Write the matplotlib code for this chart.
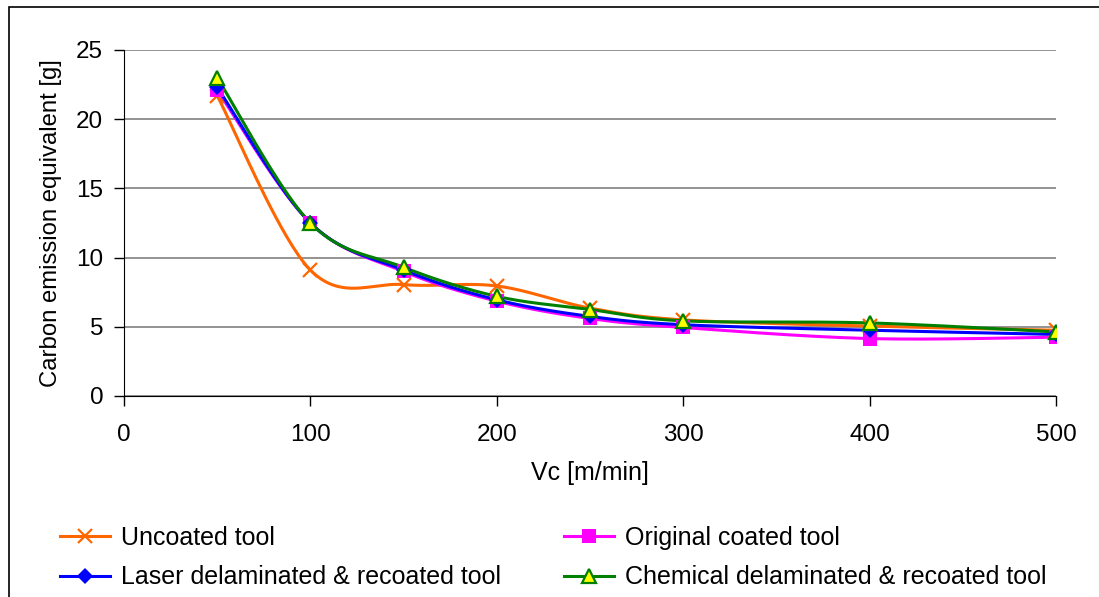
import numpy as np
import matplotlib
matplotlib.use("Agg")
import matplotlib.pyplot as plt
from matplotlib.patches import Rectangle

plt.rcParams['font.family'] = ['Liberation Sans', 'DejaVu Sans']

vc = [50, 100, 150, 200, 250, 300, 400, 500]
uncoated = [21.7, 9.1, 8.05, 7.95, 6.35, 5.5, 5.05, 4.75]
original = [22.1, 12.5, 9.0, 6.85, 5.6, 4.95, 4.15, 4.25]
laser = [22.3, 12.5, 9.1, 6.95, 5.75, 5.15, 4.75, 4.45]
chemical = [23.0, 12.5, 9.3, 7.2, 6.25, 5.43, 5.28, 4.63]

series_labels = ["Uncoated tool", "Original coated tool",
                 "Laser delaminated & recoated tool",
                 "Chemical delaminated & recoated tool"]
x_ticks = [0, 100, 200, 300, 400, 500]
y_ticks = [0, 5, 10, 15, 20, 25]


def smooth(xs, ys, n=40):
    """Excel-style smoothed line: Catmull-Rom Bezier segments."""
    p = np.column_stack([xs, ys]).astype(float)
    pts = np.vstack([p[0], p, p[-1]])
    out = []
    t = np.linspace(0, 1, n)[:, None]
    for i in range(1, len(pts) - 2):
        p0, p1, p2, p3 = pts[i - 1], pts[i], pts[i + 1], pts[i + 2]
        c1 = p1 + (p2 - p0) / 6.0
        c2 = p2 - (p3 - p1) / 6.0
        seg = ((1 - t) ** 3) * p1 + 3 * ((1 - t) ** 2) * t * c1 + \
            3 * (1 - t) * t ** 2 * c2 + t ** 3 * p2
        out.append(seg if i == 1 else seg[1:])
    s = np.vstack(out)
    return s[:, 0], s[:, 1]


fig = plt.figure(figsize=(10.99, 5.97), dpi=100)
fig.patches.append(Rectangle((9 / 1099, -0.05), 1.2, 1 - 7 / 597 + 0.05,
                             transform=fig.transFigure, fill=False,
                             edgecolor='black', linewidth=1.2))
ax = fig.add_axes([124 / 1099, 1 - 396 / 597, (1056 - 124) / 1099, (396 - 50) / 597])

styles = [
    dict(color='#FF6600', marker='x', ms=10, mew=1.6, mfc='#FF6600', mec='#FF6600'),
    dict(color='#FF00FF', marker='s', ms=10.5, mew=0, mfc='#FF00FF', mec='#FF00FF'),
    dict(color='#0000FF', marker='D', ms=8.5, mew=0, mfc='#0000FF', mec='#0000FF'),
    dict(color='#008000', marker='^', ms=10.5, mew=1.6, mfc='#FFFF00', mec='#008000'),
]
handles = []
for ys, lab, st in zip([uncoated, original, laser, chemical], series_labels, styles):
    sx, sy = smooth(vc, ys)
    ax.plot(sx, sy, color=st['color'], lw=2.2, solid_capstyle='round', zorder=3)
    ax.plot(vc, ys, linestyle='none', marker=st['marker'], ms=st['ms'], mew=st['mew'],
            mfc=st['mfc'], mec=st['mec'], zorder=4)
    h, = ax.plot([], [], color=st['color'], lw=2.2, marker=st['marker'], ms=st['ms'],
                 mew=st['mew'], mfc=st['mfc'], mec=st['mec'], label=lab)
    handles.append(h)

ax.set_xlim(0, 500)
ax.set_ylim(0, 25)
ax.set_xticks(x_ticks)
ax.set_yticks(y_ticks)
ax.tick_params(axis='both', labelsize=17.5, length=7, width=1, direction='out', color='black')
ax.tick_params(axis='x', pad=13)
ax.tick_params(axis='y', pad=8)
for sp in ['top', 'right']:
    ax.spines[sp].set_visible(False)
ax.spines['left'].set_color('black')
ax.spines['bottom'].set_color('black')
ax.yaxis.grid(True, color='#808080', linewidth=1.2)
ax.set_axisbelow(True)

ax.set_xlabel("Vc [m/min]", fontsize=18, labelpad=11)
ax.set_ylabel("Carbon emission equivalent [g]", fontsize=17.2, labelpad=10)

order = [0, 2, 1, 3]
fig.legend([handles[i] for i in order], [series_labels[i] for i in order],
           ncol=2, loc='upper left', bbox_to_anchor=(60 / 1099, 1 - 526 / 597),
           frameon=False, fontsize=18.0, handlelength=2.0, handletextpad=0.45,
           columnspacing=2.5, labelspacing=0.62, borderpad=0, borderaxespad=0)

fig.savefig("out.png", dpi=100)
